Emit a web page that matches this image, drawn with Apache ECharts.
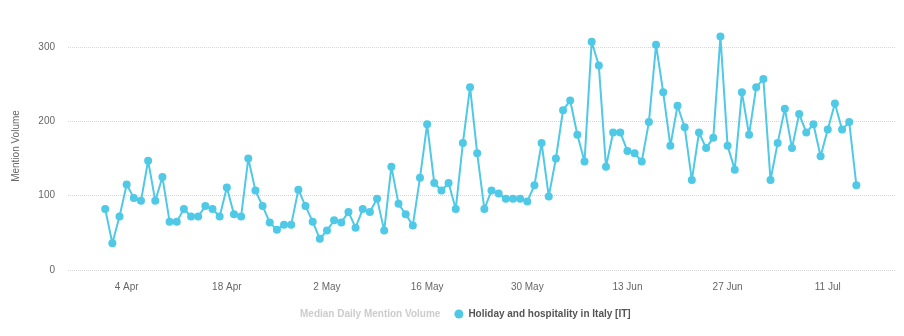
<!DOCTYPE html>
<html>
<head>
<meta charset="utf-8">
<style>
  html, body { margin: 0; padding: 0; background: #fff; }
  #chart { width: 904px; height: 336px; }
</style>
<script src="https://cdn.jsdelivr.net/npm/echarts@6/dist/echarts.min.js"></script>
</head>
<body>
<div id="chart"></div>
<script>
// Daily median mention volume, one value per day from 1 April (day 0) to 15 July
const mentionVolume = [
  82, 36, 72, 115, 97, 93, 147, 93, 125, 65,
  65, 82, 72, 72, 86, 82, 72, 111, 75, 72,
  150, 107, 86, 64, 54, 61, 61, 108, 86, 65,
  42, 53, 67, 64, 78, 57, 82, 78, 96, 53,
  139, 89, 75, 60, 124, 196, 117, 107, 117, 82,
  171, 246, 157, 82, 107, 103, 96, 96, 96, 92,
  114, 171, 99, 150, 215, 228, 182, 146, 307, 275,
  139, 185, 185, 160, 157, 146, 199, 303, 239, 167,
  221, 192, 121, 185, 164, 178, 314, 167, 135, 239,
  182, 246, 257, 121, 171, 217, 164, 210, 185, 196,
  153, 189, 224, 189, 199, 114
];

// Day offsets of the labelled ticks and their text
const tickDays = [3, 17, 31, 45, 59, 73, 87, 101];
const tickLabels = ['4 Apr', '18 Apr', '2 May', '16 May', '30 May', '13 Jun', '27 Jun', '11 Jul'];

const yTicks = [0, 100, 200, 300];

const seriesName = 'Holiday and hospitality in Italy [IT]';
const medianName = 'Median Daily Mention Volume';

const points = mentionVolume.map((v, i) => [i, v]);

const font = "'Liberation Sans', Arial, Helvetica, sans-serif";
const lineColor = '#4fc9e6';

const chart = echarts.init(document.getElementById('chart'), null, { renderer: 'canvas' });

chart.setOption({
  animation: false,
  textStyle: { fontFamily: font },
  grid: { left: 68, right: 9, top: 47, bottom: 66, containLabel: false },
  xAxis: {
    type: 'value',
    min: -5.2,
    max: 110.4,
    axisLine: { show: false },
    axisTick: { show: false },
    splitLine: { show: false },
    axisLabel: {
      customValues: tickDays,
      margin: 12,
      color: '#666',
      fontSize: 10,
      fontFamily: font,
      formatter: function (val) {
        const idx = tickDays.indexOf(Math.round(val));
        return idx >= 0 ? tickLabels[idx] : '';
      }
    }
  },
  yAxis: {
    type: 'value',
    min: yTicks[0],
    max: yTicks[yTicks.length - 1],
    interval: 100,
    axisLine: { show: false },
    axisTick: { show: false },
    axisLabel: { color: '#666', fontSize: 10, margin: 13, fontFamily: font },
    splitLine: { lineStyle: { type: 'dotted', color: '#d6d6d6', width: 1 } }
  },
  legend: {
    bottom: 12,
    left: 281,
    itemWidth: 9,
    itemHeight: 9,
    itemGap: 14,
    inactiveColor: '#cccccc',
    textStyle: { fontSize: 10, fontWeight: 'bold', color: '#555', fontFamily: font },
    selected: { [medianName]: false },
    data: [
      { name: medianName, icon: 'none' },
      { name: seriesName, icon: 'circle' }
    ]
  },
  graphic: [{
    type: 'text',
    x: 16,
    y: 146,
    rotation: Math.PI / 2,
    style: {
      text: 'Mention Volume',
      fill: '#666',
      font: '10px ' + font,
      align: 'center',
      verticalAlign: 'middle'
    }
  }],
  series: [
    {
      name: medianName,
      type: 'line',
      data: [],
      itemStyle: { color: '#cccccc' }
    },
    {
      name: seriesName,
      type: 'line',
      data: points,
      clip: false,
      symbol: 'circle',
      symbolSize: 8,
      showSymbol: true,
      showAllSymbol: true,
      lineStyle: { color: lineColor, width: 2 },
      itemStyle: { color: lineColor }
    }
  ]
});
</script>
</body>
</html>
